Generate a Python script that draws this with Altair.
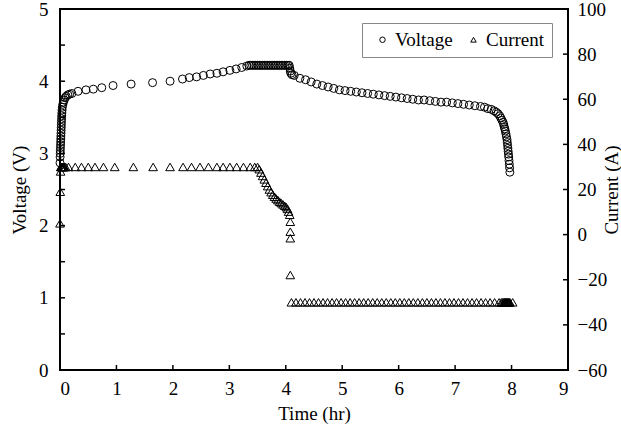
import altair as alt
import pandas as pd

# ---------------- data ----------------
volt_time = [
    0.000, 0.002, 0.004, 0.006, 0.008, 0.010, 0.012, 0.014, 0.016, 0.018,
    0.020, 0.022, 0.024, 0.026, 0.028, 0.030, 0.033, 0.037, 0.042, 0.050,
    0.060, 0.075, 0.090, 0.110, 0.140, 0.170, 0.21, 0.32, 0.46, 0.59,
    0.74, 0.94, 1.26, 1.64, 1.95, 2.17, 2.29, 2.42, 2.54, 2.66,
    2.78, 2.89, 3.01, 3.12, 3.22, 3.31,
    3.35, 3.38, 3.41, 3.44, 3.47, 3.50, 3.53, 3.56, 3.59, 3.62,
    3.65, 3.68, 3.71, 3.74, 3.77, 3.80, 3.83, 3.86, 3.89, 3.92,
    3.95, 3.98, 4.01, 4.04, 4.06,
    4.07, 4.08, 4.09, 4.11,
    4.15, 4.25, 4.35, 4.45, 4.55, 4.65, 4.75, 4.85, 4.95, 5.05,
    5.15, 5.25, 5.35, 5.45, 5.55, 5.65, 5.75, 5.85, 5.95, 6.05,
    6.15, 6.25, 6.35, 6.45, 6.55, 6.65, 6.75, 6.85, 6.95, 7.05,
    7.15, 7.25, 7.35, 7.45, 7.52, 7.58, 7.64, 7.69, 7.73, 7.76,
    7.79, 7.81, 7.83, 7.85, 7.86, 7.87, 7.88, 7.89, 7.90, 7.91,
    7.92, 7.925, 7.93, 7.935, 7.94, 7.945, 7.95, 7.955, 7.96, 7.965,
    7.97,
]
volt_value = [
    2.87, 2.95, 3.00, 3.04, 3.08, 3.12, 3.16, 3.20, 3.24, 3.28,
    3.32, 3.36, 3.40, 3.44, 3.48, 3.52, 3.56, 3.60, 3.64, 3.68,
    3.71, 3.74, 3.77, 3.79, 3.81, 3.82, 3.83, 3.86, 3.88, 3.89,
    3.91, 3.94, 3.96, 3.98, 4.00, 4.03, 4.05, 4.06, 4.08, 4.10,
    4.11, 4.13, 4.15, 4.17, 4.19, 4.21,
    4.22, 4.22, 4.22, 4.22, 4.22, 4.22, 4.22, 4.22, 4.22, 4.22,
    4.22, 4.22, 4.22, 4.22, 4.22, 4.22, 4.22, 4.22, 4.22, 4.22,
    4.22, 4.22, 4.22, 4.22, 4.22,
    4.18, 4.14, 4.11, 4.09,
    4.08, 4.04, 4.02, 3.99, 3.96, 3.94, 3.92, 3.90, 3.88, 3.87,
    3.86, 3.85, 3.84, 3.83, 3.82, 3.81, 3.80, 3.79, 3.78, 3.77,
    3.76, 3.75, 3.74, 3.74, 3.73, 3.72, 3.71, 3.71, 3.70, 3.69,
    3.68, 3.67, 3.66, 3.65, 3.64, 3.62, 3.61, 3.59, 3.57, 3.55,
    3.52, 3.49, 3.46, 3.43, 3.40, 3.37, 3.34, 3.31, 3.27, 3.23,
    3.19, 3.15, 3.11, 3.07, 3.03, 2.99, 2.95, 2.90, 2.85, 2.80,
    2.74,
]

curr_time = [
    0.000, 0.005, 0.010, 0.015, 0.020, 0.030, 0.040, 0.050, 0.060, 0.070,
    0.080, 0.100, 0.15, 0.27, 0.38, 0.50, 0.62, 0.77, 0.97, 1.30,
    1.65, 1.95, 2.18, 2.33, 2.48, 2.63, 2.78, 2.89, 3.01, 3.13,
    3.25, 3.37, 3.45, 3.50,
    3.53, 3.56, 3.59, 3.62, 3.65, 3.68, 3.71, 3.74, 3.77, 3.80,
    3.83, 3.86, 3.89, 3.92, 3.95, 3.98, 4.01, 4.03, 4.05, 4.07,
    4.08, 4.08, 4.08, 4.08,
    4.10, 4.18, 4.26, 4.34, 4.42, 4.50, 4.58, 4.66, 4.74, 4.82,
    4.90, 4.98, 5.06, 5.14, 5.22, 5.30, 5.38, 5.46, 5.54, 5.62,
    5.70, 5.78, 5.86, 5.94, 6.02, 6.10, 6.18, 6.26, 6.34, 6.42,
    6.50, 6.58, 6.66, 6.74, 6.82, 6.90, 6.98, 7.06, 7.14, 7.22,
    7.30, 7.38, 7.46, 7.54, 7.62, 7.70, 7.78, 7.82, 7.84, 7.86,
    7.87, 7.88, 7.89, 7.90, 7.91, 7.92, 7.93, 7.94, 7.95, 7.96,
    7.97, 8.02,
]
curr_value = [
    5, 19, 28, 30, 30, 30, 30, 30, 30, 30,
    30, 30, 30, 30, 30, 30, 30, 30, 30, 30,
    30, 30, 30, 30, 30, 30, 30, 30, 30, 30,
    30, 30, 30, 30,
    29, 27.5, 26, 24.5, 23, 21.5, 20, 18.8, 17.7, 16.8,
    16, 15.3, 14.6, 14, 13.4, 12.8, 12.2, 11.4, 10.2, 8.8,
    5.7, 1.3, -1.6, -17.9,
    -30, -30, -30, -30, -30, -30, -30, -30, -30, -30,
    -30, -30, -30, -30, -30, -30, -30, -30, -30, -30,
    -30, -30, -30, -30, -30, -30, -30, -30, -30, -30,
    -30, -30, -30, -30, -30, -30, -30, -30, -30, -30,
    -30, -30, -30, -30, -30, -30, -30, -30, -30, -30,
    -30, -30, -30, -30, -30, -30, -30, -30, -30, -30,
    -30, -30,
]

time_ticks = [0, 1, 2, 3, 4, 5, 6, 7, 8, 9]
volt_labels = [0, 1, 2, 3, 4, 5]
volt_ticks = [0, 0.5, 1, 1.5, 2, 2.5, 3, 3.5, 4, 4.5, 5]
curr_ticks = [-60, -40, -20, 0, 20, 40, 60, 80, 100]
series_names = ["Voltage", "Current"]

# ---------------- tables ----------------
vdf = pd.DataFrame({"t": volt_time, "v": volt_value, "series": "Voltage"})
cdf = pd.DataFrame({"t": curr_time, "c": curr_value, "series": "Current"})

FONT = "'Liberation Serif', 'Times New Roman', 'DejaVu Serif', serif"
FS = 19
xscale = alt.Scale(domain=[0, 9], nice=False, zero=False)
vscale = alt.Scale(domain=[0, 5], nice=False)
cscale = alt.Scale(domain=[-60, 100], nice=False)
shape_scale = alt.Scale(domain=series_names, range=["circle", "triangle-up"])

common_axis = dict(ticks=False, domain=False, grid=False,
                   labelFont=FONT, labelFontSize=FS, labelColor="black",
                   titleFont=FONT, titleFontSize=FS, titleColor="black",
                   titleFontWeight="normal", format="d")

xaxis = alt.Axis(values=time_ticks, title="Time (hr)", labelPadding=9,
                 titlePadding=6, **common_axis)

legend = alt.Legend(title=None, orient="none", legendX=302, legendY=14,
                    direction="horizontal", symbolSize=30, symbolStrokeWidth=1,
                    symbolStrokeColor="black", symbolFillColor="transparent",
                    labelFont=FONT, labelFontSize=FS,
                    labelColor="black", labelOffset=3, columnPadding=7,
                    padding=7, symbolOffset=4, strokeColor="#888888",
                    fillColor="white", cornerRadius=0)

v_pts = alt.Chart(vdf).mark_point(filled=False, size=64, strokeWidth=1,
                                  color="black", opacity=1).encode(
    x=alt.X("t:Q", scale=xscale, axis=xaxis),
    y=alt.Y("v:Q", scale=vscale,
            axis=alt.Axis(orient="left", values=volt_labels, title="Voltage (V)",
                          labelPadding=12, titlePadding=9, **common_axis)),
    shape=alt.Shape("series:N", scale=shape_scale, legend=legend),
)

c_pts = alt.Chart(cdf).mark_point(filled=False, size=75, strokeWidth=1,
                                  color="black", opacity=1).encode(
    x=alt.X("t:Q", scale=xscale, axis=xaxis),
    y=alt.Y("c:Q", scale=cscale,
            axis=alt.Axis(orient="right", values=curr_ticks, title="Current (A)",
                          labelPadding=9, titlePadding=-4, titleAngle=270,
                          titleBaseline="top", **common_axis)),
    shape=alt.Shape("series:N", scale=shape_scale, legend=legend),
)

v_ticks = alt.Chart(pd.DataFrame({"v": volt_ticks})).mark_rule(
    color="black", strokeWidth=1.5).encode(
    y=alt.Y("v:Q", scale=vscale, axis=None),
    x=alt.value(0), x2=alt.value(5))

c_ticks = alt.Chart(pd.DataFrame({"c": curr_ticks})).mark_rule(
    color="black", strokeWidth=1.5).encode(
    y=alt.Y("c:Q", scale=cscale, axis=None),
    x=alt.value(503), x2=alt.value(508))

x_ticks = alt.Chart(pd.DataFrame({"t": time_ticks})).mark_rule(
    color="black", strokeWidth=1.5).encode(
    x=alt.X("t:Q", scale=xscale, axis=xaxis),
    y=alt.value(361), y2=alt.value(356))

chart = alt.layer(v_ticks, v_pts, c_ticks, c_pts, x_ticks).resolve_scale(
    y="independent"
).properties(
    width=508, height=361,
    autosize=alt.AutoSizeParams(type="none"),
    padding={"left": 60, "top": 9, "right": 53, "bottom": 58},
    background="white",
).configure(
    font=FONT
).configure_view(
    stroke="black", strokeWidth=2
).configure_axis(
    labelFont=FONT, labelFontSize=FS, labelColor="black",
    titleFont=FONT, titleFontSize=FS, titleColor="black", titleFontWeight="normal",
).configure_legend(
    labelFont=FONT, labelFontSize=FS
)

chart.save("out.html", embed_options={"renderer": "svg", "actions": False})
